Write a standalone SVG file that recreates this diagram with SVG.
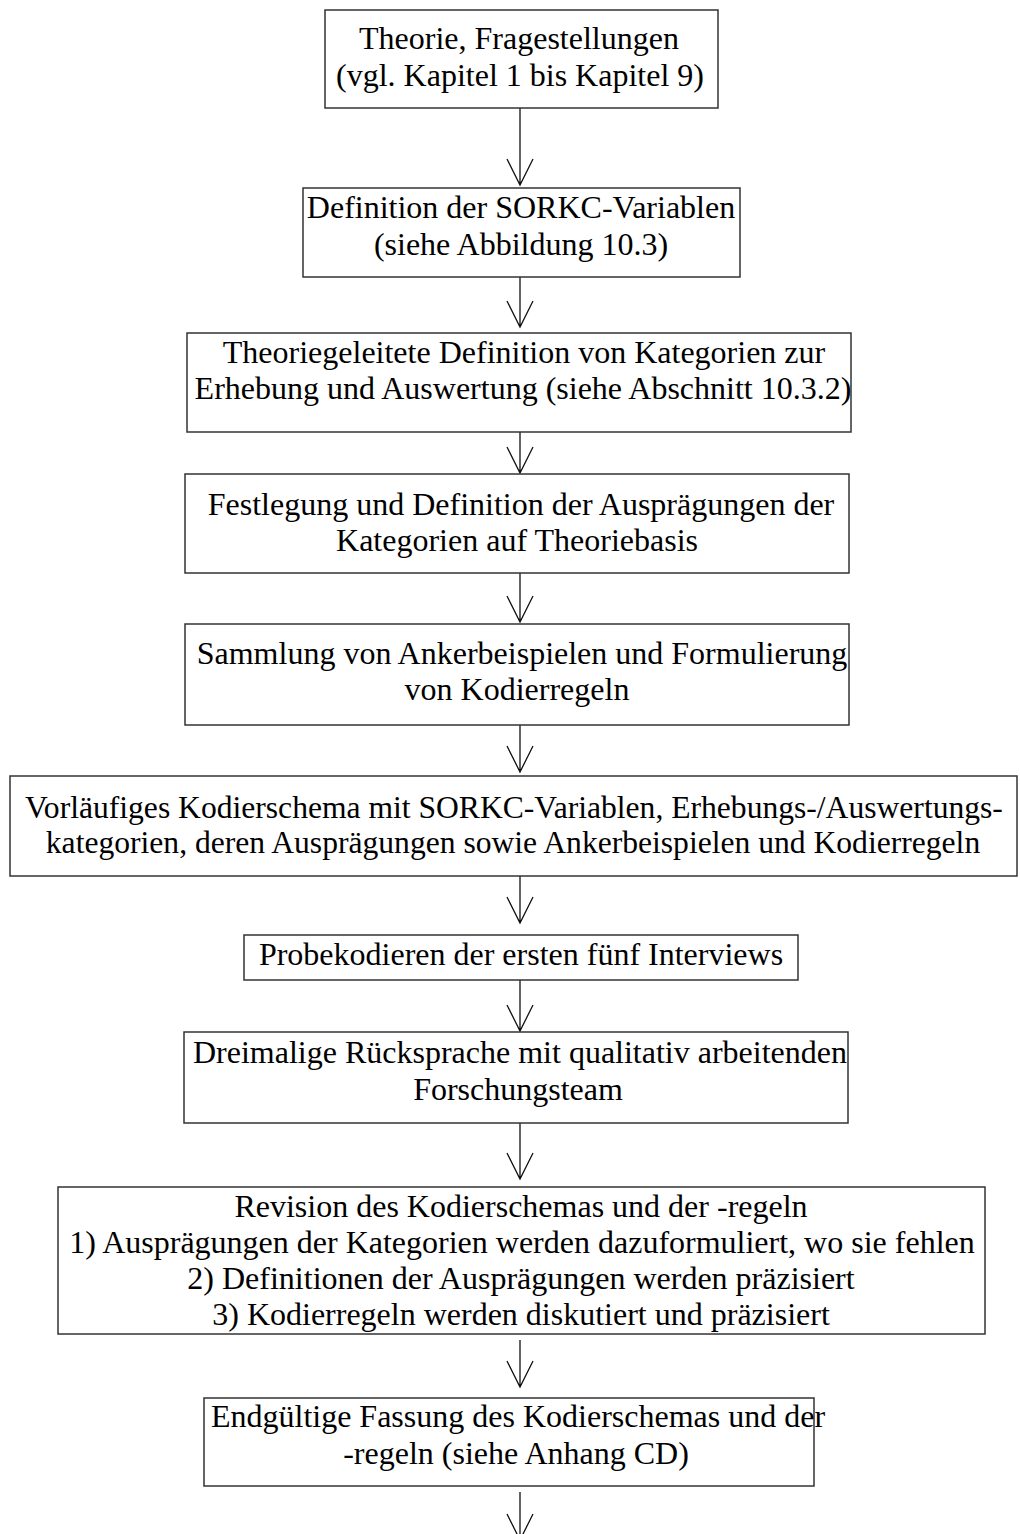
<svg xmlns="http://www.w3.org/2000/svg" width="1020" height="1534" viewBox="0 0 1020 1534">
<style>
.box{fill:#fff;stroke:#333;stroke-width:1.5}
.t{font-family:"Liberation Serif","Times New Roman",serif;font-size:32px;fill:#000;text-anchor:middle}
.s{font-size:31.6px}
.c{fill:none;stroke:#111;stroke-width:1.3}
</style>
<rect width="1020" height="1534" fill="#fff"/>
<g id="connectors">
<path class="c" d="M520,108V185M507,159L520,185L533,159"/>
<path class="c" d="M520,277V327M507,301L520,327L533,301"/>
<path class="c" d="M520,432V473M507,447L520,473L533,447"/>
<path class="c" d="M520,573V622M507,596L520,622L533,596"/>
<path class="c" d="M520,725V772M507,746L520,772L533,746"/>
<path class="c" d="M520,876V923M507,897L520,923L533,897"/>
<path class="c" d="M520,980V1031M507,1005L520,1031L533,1005"/>
<path class="c" d="M520,1123V1179M507,1153L520,1179L533,1153"/>
<path class="c" d="M520,1340V1387M507,1361L520,1387L533,1361"/>
<path class="c" d="M520,1492V1540M507,1514L520,1540L533,1514"/>
</g>
<g id="n1"><rect class="box" x="325" y="10" width="393" height="98"/>
<text class="t" x="519" y="49">Theorie, Fragestellungen</text>
<text class="t" x="520" y="86">(vgl. Kapitel 1 bis Kapitel 9)</text></g>
<g id="n2"><rect class="box" x="303" y="188" width="437" height="89"/>
<text class="t" x="521" y="218">Definition der SORKC-Variablen</text>
<text class="t" x="521" y="255">(siehe Abbildung 10.3)</text></g>
<g id="n3"><rect class="box" x="187" y="333" width="664" height="99"/>
<text class="t" x="524" y="363">Theoriegeleitete Definition von Kategorien zur</text>
<text class="t" x="523" y="399">Erhebung und Auswertung (siehe Abschnitt 10.3.2)</text></g>
<g id="n4"><rect class="box" x="185" y="474" width="664" height="99"/>
<text class="t" x="521" y="515">Festlegung und Definition der Ausprägungen der</text>
<text class="t" x="517" y="551">Kategorien auf Theoriebasis</text></g>
<g id="n5"><rect class="box" x="185" y="624" width="664" height="101"/>
<text class="t" x="522" y="664">Sammlung von Ankerbeispielen und Formulierung</text>
<text class="t" x="517" y="700">von Kodierregeln</text></g>
<g id="n6"><rect class="box" x="10" y="776" width="1007" height="100"/>
<text class="t s" x="514" y="818">Vorläufiges Kodierschema mit SORKC-Variablen, Erhebungs-/Auswertungs-</text>
<text class="t s" x="513" y="853">kategorien, deren Ausprägungen sowie Ankerbeispielen und Kodierregeln</text></g>
<g id="n7"><rect class="box" x="244" y="935" width="554" height="45"/>
<text class="t" x="521" y="965">Probekodieren der ersten fünf Interviews</text></g>
<g id="n8"><rect class="box" x="184" y="1032" width="664" height="91"/>
<text class="t" x="520" y="1063">Dreimalige Rücksprache mit qualitativ arbeitenden</text>
<text class="t" x="518" y="1100">Forschungsteam</text></g>
<g id="n9"><rect class="box" x="58" y="1187" width="927" height="147"/>
<text class="t" x="521" y="1217">Revision des Kodierschemas und der -regeln</text>
<text class="t" x="522" y="1253">1) Ausprägungen der Kategorien werden dazuformuliert, wo sie fehlen</text>
<text class="t" x="521" y="1289">2) Definitionen der Ausprägungen werden präzisiert</text>
<text class="t" x="521" y="1325">3) Kodierregeln werden diskutiert und präzisiert</text></g>
<g id="n10"><rect class="box" x="204" y="1398" width="610" height="88"/>
<text class="t" x="518" y="1427">Endgültige Fassung des Kodierschemas und der</text>
<text class="t" x="516" y="1464">-regeln (siehe Anhang CD)</text></g>
</svg>
